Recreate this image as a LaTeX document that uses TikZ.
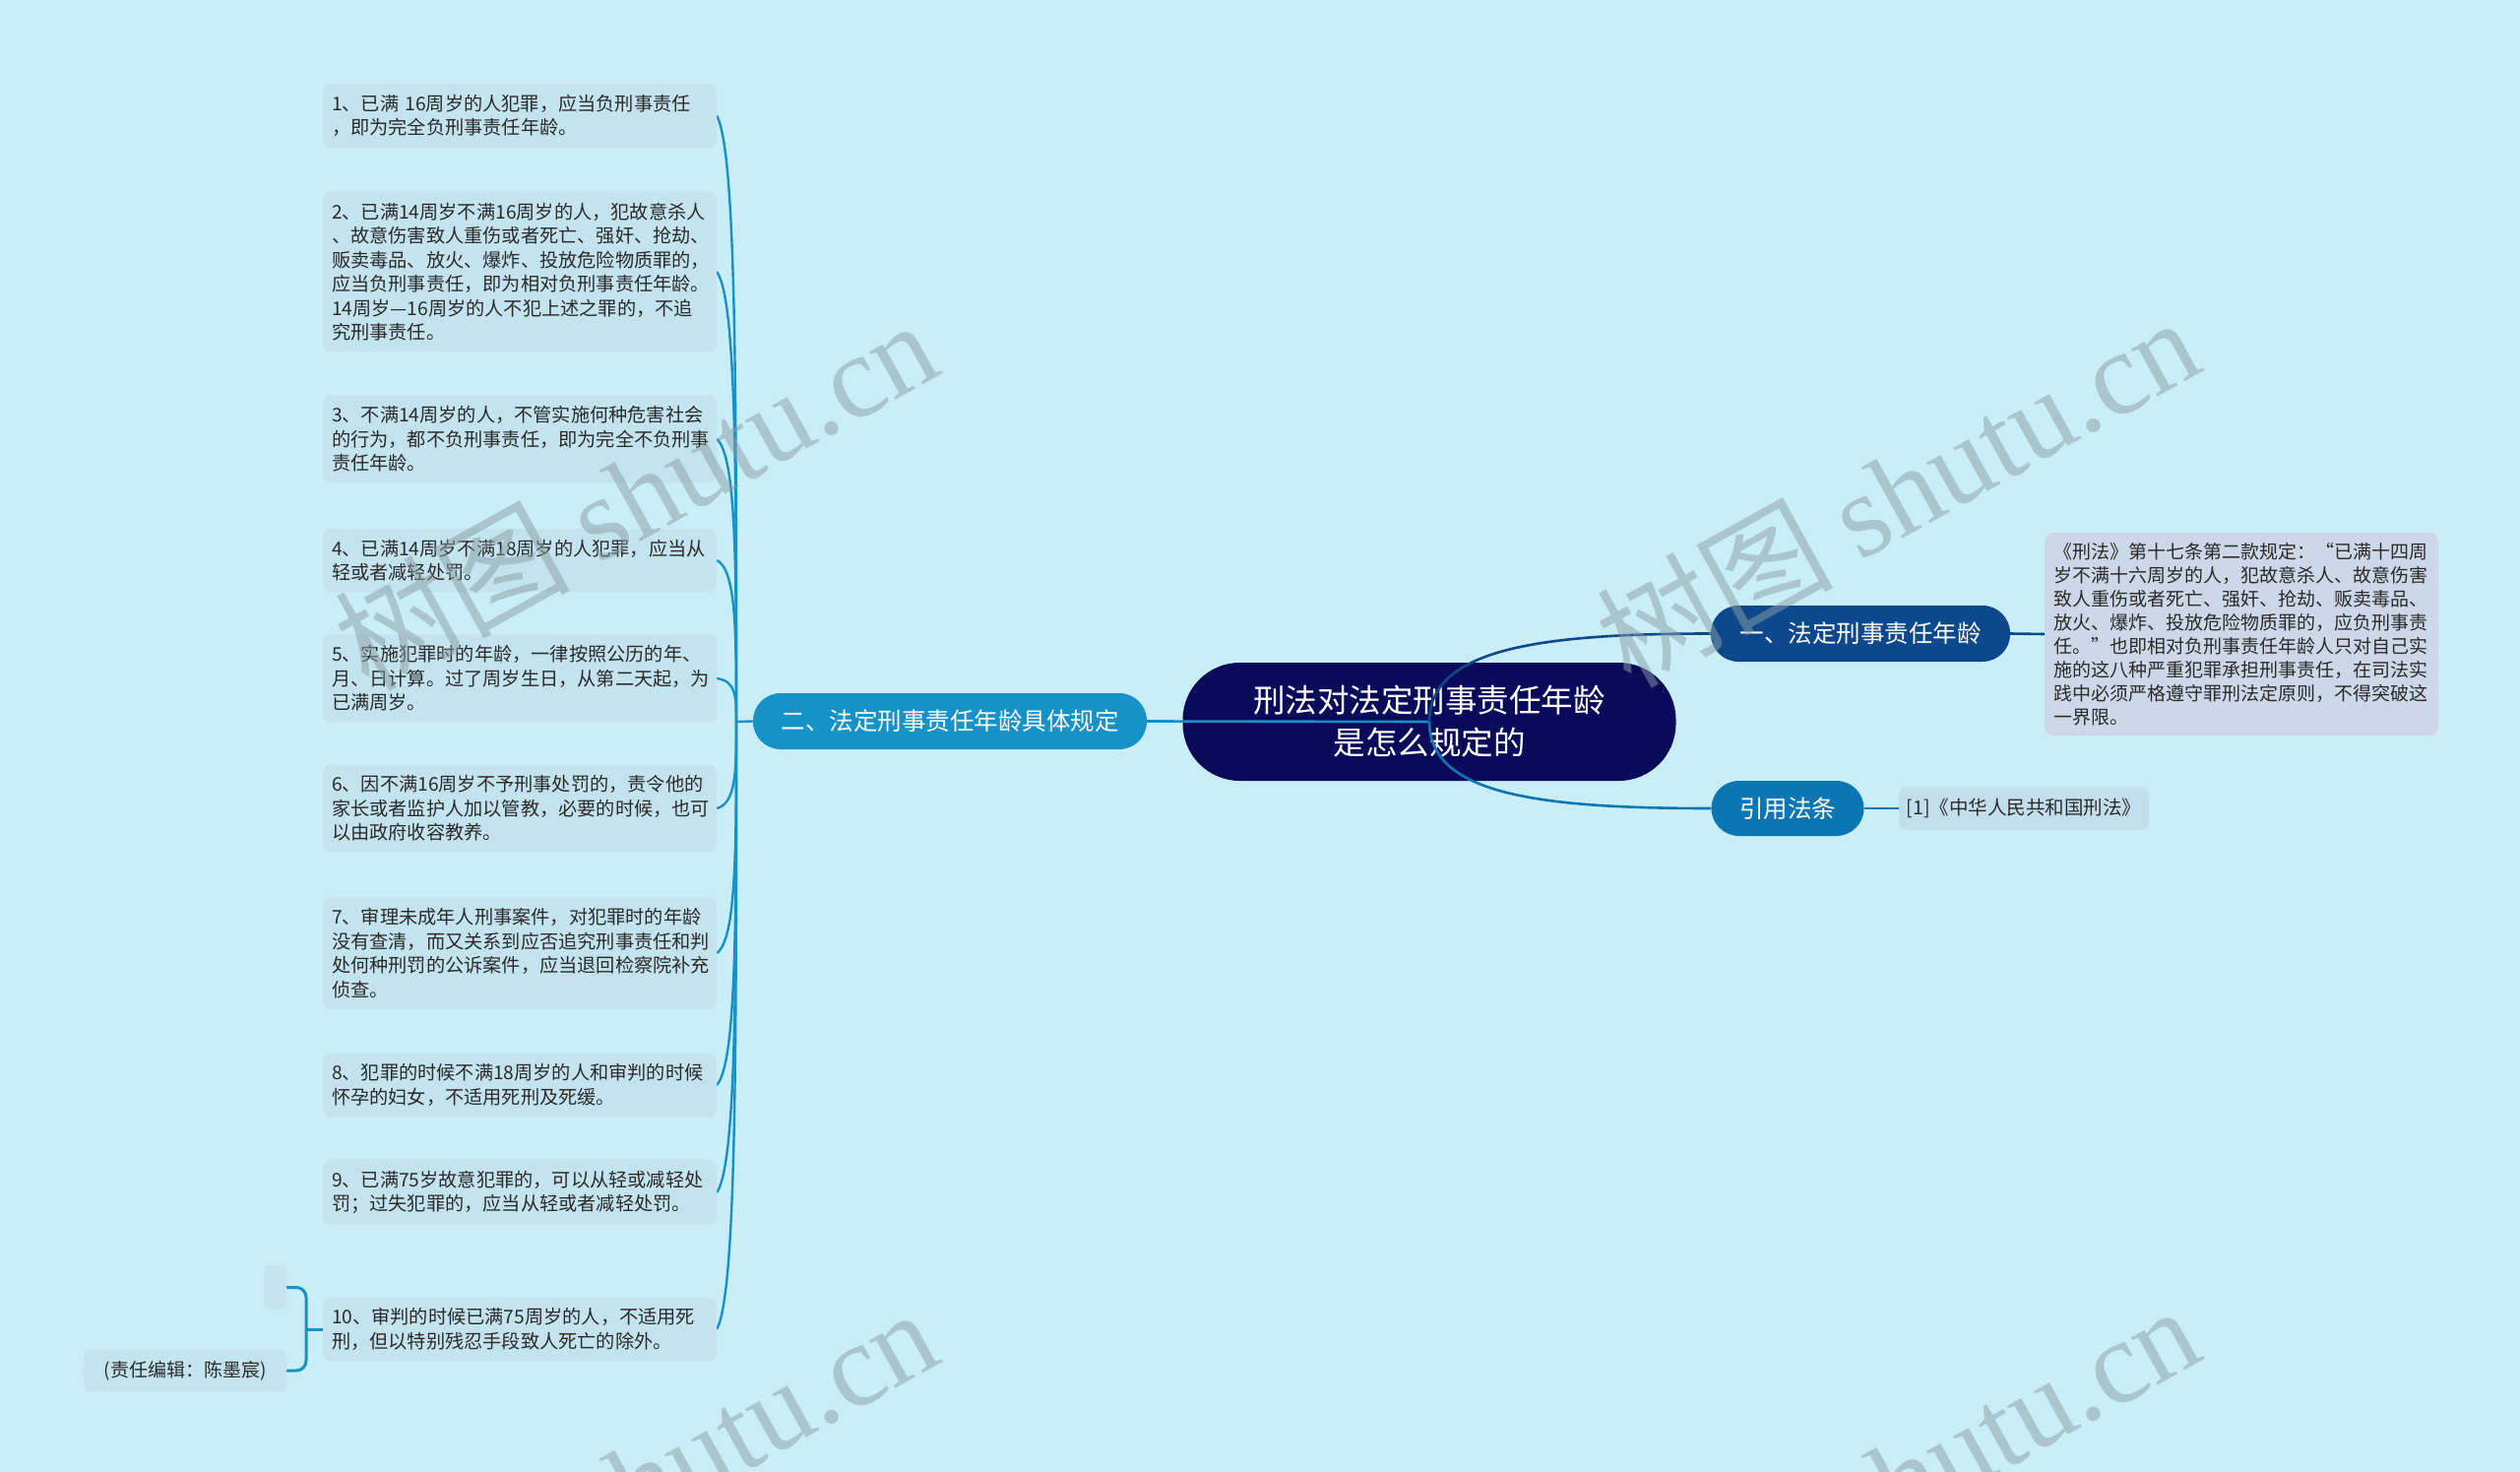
\documentclass[tikz,border=0pt]{standalone}
\usepackage{fontspec}
\setmainfont{Noto Sans CJK SC}
\newfontfamily\wmlatin{Liberation Serif}
\usetikzlibrary{calc}
\definecolor{bgc}{HTML}{C9EEF7}
\definecolor{leaffill}{HTML}{C3E4EF}
\definecolor{quotefill}{HTML}{CCD8E8}
\definecolor{citefill}{HTML}{C3DFEE}
\definecolor{leaftext}{HTML}{2A2A2A}
\definecolor{rootc}{HTML}{0A0A5A}
\definecolor{onec}{HTML}{0E488C}
\definecolor{citec}{HTML}{0B76B4}
\definecolor{twoc}{HTML}{1692C8}
\definecolor{wmc}{HTML}{8A9EA4}
\pgfdeclarelayer{back}
\pgfdeclarelayer{mid}
\pgfdeclarelayer{front}
\pgfsetlayers{back,mid,main,front}
\begin{document}
\begin{tikzpicture}[x=1pt,y=-1pt,
  leaf/.style={fill=leaffill, rounded corners=8pt, text width=382pt, inner xsep=9pt, inner ysep=11pt, align=left, text=leaftext, font=\fontsize{19.2}{24.5}\selectfont},
  pill/.style={rounded corners=28pt, minimum height=57pt, text=white, inner sep=0pt, font=\fontsize{24.5}{30}\selectfont},
  lb/.style={draw=twoc, line width=2.4pt},
  wm/.style={rotate=29, text=wmc, opacity=0.5, inner sep=0pt, font=\fontsize{120}{120}\selectfont}
]
\useasboundingbox (0,0) rectangle (2560,1495);
\begin{pgfonlayer}{back}
\fill[bgc] (0,0) rectangle (2560,1495);
\node[fill=rootc, rounded corners=58pt, minimum width=501pt, minimum height=120pt, inner sep=0pt, text=white, align=center, font=\fontsize{32.5}{43}\selectfont] (root) at (1452,733) {刑法对法定刑事责任年龄\\是怎么规定的};
\end{pgfonlayer}

% main branches
\node[pill, fill=onec, minimum width=304pt] (n1) at (1890,643.5) {一、法定刑事责任年龄};
\node[pill, fill=citec, minimum width=155pt, minimum height=56pt] (n3) at (1816,821) {引用法条};
\node[pill, fill=twoc, minimum width=400pt] (n2) at (965,732.5) {二、法定刑事责任年龄具体规定};

% right leaves
\node[fill=quotefill, rounded corners=8pt, text width=382pt, inner xsep=9pt, inner ysep=10pt, align=left, text=leaftext, font=\fontsize{19}{24}\selectfont] (q1) at (2277,644) {《刑法》第十七条第二款规定：“已满十四周\\岁不满十六周岁的人，犯故意杀人、故意伤害\\致人重伤或者死亡、强奸、抢劫、贩卖毒品、\\放火、爆炸、投放危险物质罪的，应负刑事责\\任。”也即相对负刑事责任年龄人只对自己实\\施的这八种严重犯罪承担刑事责任，在司法实\\践中必须严格遵守罪刑法定原则，不得突破这\\一界限。};
\node[fill=citefill, rounded corners=8pt, minimum width=254pt, minimum height=44pt, inner sep=0pt, text=leaftext, font=\fontsize{19.5}{24}\selectfont] (c1) at (2056,821) {[1]《中华人民共和国刑法》};

% left leaves
\node[leaf] (l1) at (528,117.5) {1、已满 16周岁的人犯罪，应当负刑事责任\\，即为完全负刑事责任年龄。};
\node[leaf] (l2) at (528,276) {2、已满14周岁不满16周岁的人，犯故意杀人\\、故意伤害致人重伤或者死亡、强奸、抢劫、\\贩卖毒品、放火、爆炸、投放危险物质罪的，\\应当负刑事责任，即为相对负刑事责任年龄。\\14周岁—16周岁的人不犯上述之罪的，不追\\究刑事责任。};
\node[leaf] (l3) at (528,446) {3、不满14周岁的人，不管实施何种危害社会\\的行为，都不负刑事责任，即为完全不负刑事\\责任年龄。};
\node[leaf] (l4) at (528,569) {4、已满14周岁不满18周岁的人犯罪，应当从\\轻或者减轻处罚。};
\node[leaf] (l5) at (528,689) {5、实施犯罪时的年龄，一律按照公历的年、\\月、日计算。过了周岁生日，从第二天起，为\\已满周岁。};
\node[leaf] (l6) at (528,821) {6、因不满16周岁不予刑事处罚的，责令他的\\家长或者监护人加以管教，必要的时候，也可\\以由政府收容教养。};
\node[leaf] (l7) at (528,968) {7、审理未成年人刑事案件，对犯罪时的年龄\\没有查清，而又关系到应否追究刑事责任和判\\处何种刑罚的公诉案件，应当退回检察院补充\\侦查。};
\node[leaf] (l8) at (528,1102) {8、犯罪的时候不满18周岁的人和审判的时候\\怀孕的妇女，不适用死刑及死缓。};
\node[leaf] (l9) at (528,1211) {9、已满75岁故意犯罪的，可以从轻或减轻处\\罚；过失犯罪的，应当从轻或者减轻处罚。};
\node[leaf] (l10) at (528,1350) {10、审判的时候已满75周岁的人，不适用死\\刑，但以特别残忍手段致人死亡的除外。};

% small boxes on the far left
\node[fill=leaffill, rounded corners=6pt, minimum width=23pt, minimum height=45pt, inner sep=0pt] (e1) at (279.5,1307.5) {};
\node[fill=leaffill, rounded corners=8pt, minimum width=206pt, minimum height=43pt, inner sep=0pt, text=leaftext, font=\fontsize{19}{24}\selectfont] (ed) at (188,1392) {(责任编辑：陈墨宸)};

\coordinate (trunk) at (748,733);
\coordinate (bj) at (311,1350);

\begin{pgfonlayer}{mid}
\draw[draw=twoc, line width=2.6pt] (root.center) -- (n2.east);
\draw[draw=onec, line width=2.6pt] (root.center) .. controls (1452,660) and (1560,643.5) .. (n1.west);
\draw[draw=citec, line width=2.6pt] (root.center) .. controls (1452,806) and (1560,821) .. (n3.west);
\draw[draw=onec, line width=2.6pt] (n1.east) -- (q1.west);
\draw[draw=citec, line width=2.6pt] (n3.east) -- (c1.west);
\draw[lb] (n2.west) -- (trunk);
\foreach \i in {1,...,10}{
  \draw[lb] (trunk) .. controls ($(trunk)!0.55!(trunk |- l\i.east)$) and ($(trunk |- l\i.east)!0.06!(trunk)$) .. (l\i.east);
}
\draw[draw=twoc, line width=3pt] (l10.west) -- (bj);
\draw[draw=twoc, line width=3pt, rounded corners=10pt] (e1.east) -| (bj) |- (ed.east);
\end{pgfonlayer}

\begin{pgfonlayer}{front}
\begin{scope}
\clip (0,0) rectangle (2560,1495);
\node[wm] (w1) at (645,501) {树图 {\wmlatin shutu.cn}};
\node[wm] (w2) at (1927,498) {树图 {\wmlatin shutu.cn}};
\node[wm] (w3) at (645,1505) {树图 {\wmlatin shutu.cn}};
\node[wm] (w4) at (1927,1502) {树图 {\wmlatin shutu.cn}};
\end{scope}
\end{pgfonlayer}
\end{tikzpicture}
\end{document}
